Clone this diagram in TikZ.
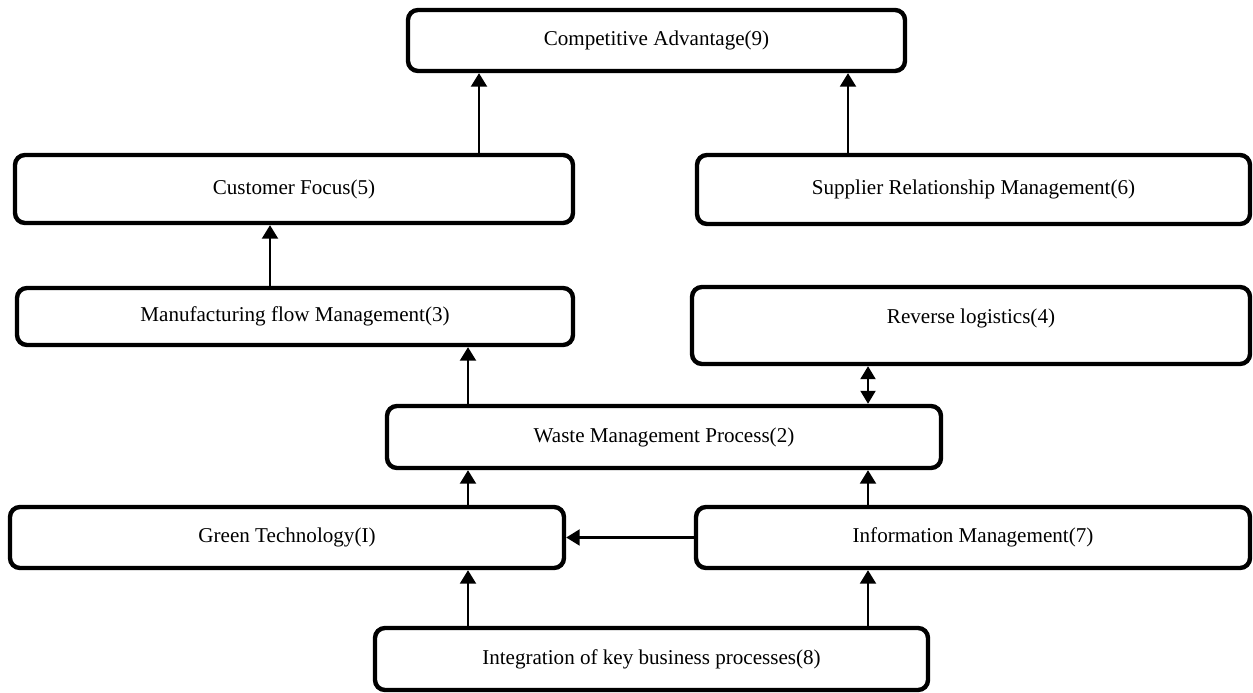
\documentclass[tikz,border=0pt]{standalone}
\usepackage{fontspec}
\setmainfont{Liberation Serif}
\usepackage{tikz}
\usetikzlibrary{arrows.meta}

\begin{document}
\begin{tikzpicture}
\useasboundingbox (0,0) rectangle (25.06,13.86);
\tikzstyle{bloc}=[draw,line width=2.5pt,rounded corners=0.2cm,inner sep=0pt,font=\fontsize{12}{14}\selectfont];
\tikzstyle{fleche}=[line width=1.2pt,-{Triangle[width=0.32cm,length=0.27cm]}];
\tikzstyle{double}=[line width=1.2pt,{Triangle[width=0.3cm,length=0.26cm]}-{Triangle[width=0.3cm,length=0.26cm]}];

\node[bloc,minimum width=9.94cm,minimum height=1.22cm] (comp) at (13.13,13.05) {Competitive Advantage(9)};
\node[bloc,minimum width=11.16cm,minimum height=1.36cm] (cust) at (5.88,10.08) {Customer Focus(5)};
\node[bloc,minimum width=11.06cm,minimum height=1.38cm] (supp) at (19.47,10.07) {Supplier Relationship Management(6)};
\node[bloc,minimum width=11.12cm,minimum height=1.14cm] (manu) at (5.90,7.53) {Manufacturing flow Management(3)};
\node[bloc,minimum width=11.16cm,minimum height=1.54cm,text depth=0.38cm] (rev) at (19.42,7.35) {Reverse logistics(4)};
\node[bloc,minimum width=11.08cm,minimum height=1.24cm] (waste) at (13.28,5.12) {Waste Management Process(2)};
\node[bloc,minimum width=11.08cm,minimum height=1.22cm] (green) at (5.74,3.11) {Green Technology(I)};
\node[bloc,minimum width=11.08cm,minimum height=1.22cm] (info) at (19.46,3.11) {Information Management(7)};
\node[bloc,minimum width=11.06cm,minimum height=1.24cm] (integ) at (13.03,0.68) {Integration of key business processes(8)};

% columns of the arrows
\coordinate (xa) at (9.58,0);
\coordinate (xb) at (16.96,0);
\coordinate (xc) at (5.40,0);
\coordinate (xd) at (9.36,0);
\coordinate (xe) at (17.36,0);

\draw[fleche] (cust.north -| xa) -- (comp.south -| xa);
\draw[fleche] (supp.north -| xb) -- (comp.south -| xb);
\draw[fleche] (manu.north -| xc) -- (cust.south -| xc);
\draw[fleche] (waste.north -| xd) -- (manu.south -| xd);
\draw[double] (rev.south -| xe) -- (waste.north -| xe);
\draw[fleche] (green.north -| xd) -- (waste.south -| xd);
\draw[fleche] (info.north -| xe) -- (waste.south -| xe);
\draw[fleche] (info.west) -- (green.east);
\draw[fleche] (integ.north -| xd) -- (green.south -| xd);
\draw[fleche] (integ.north -| xe) -- (info.south -| xe);
\end{tikzpicture}
\end{document}
